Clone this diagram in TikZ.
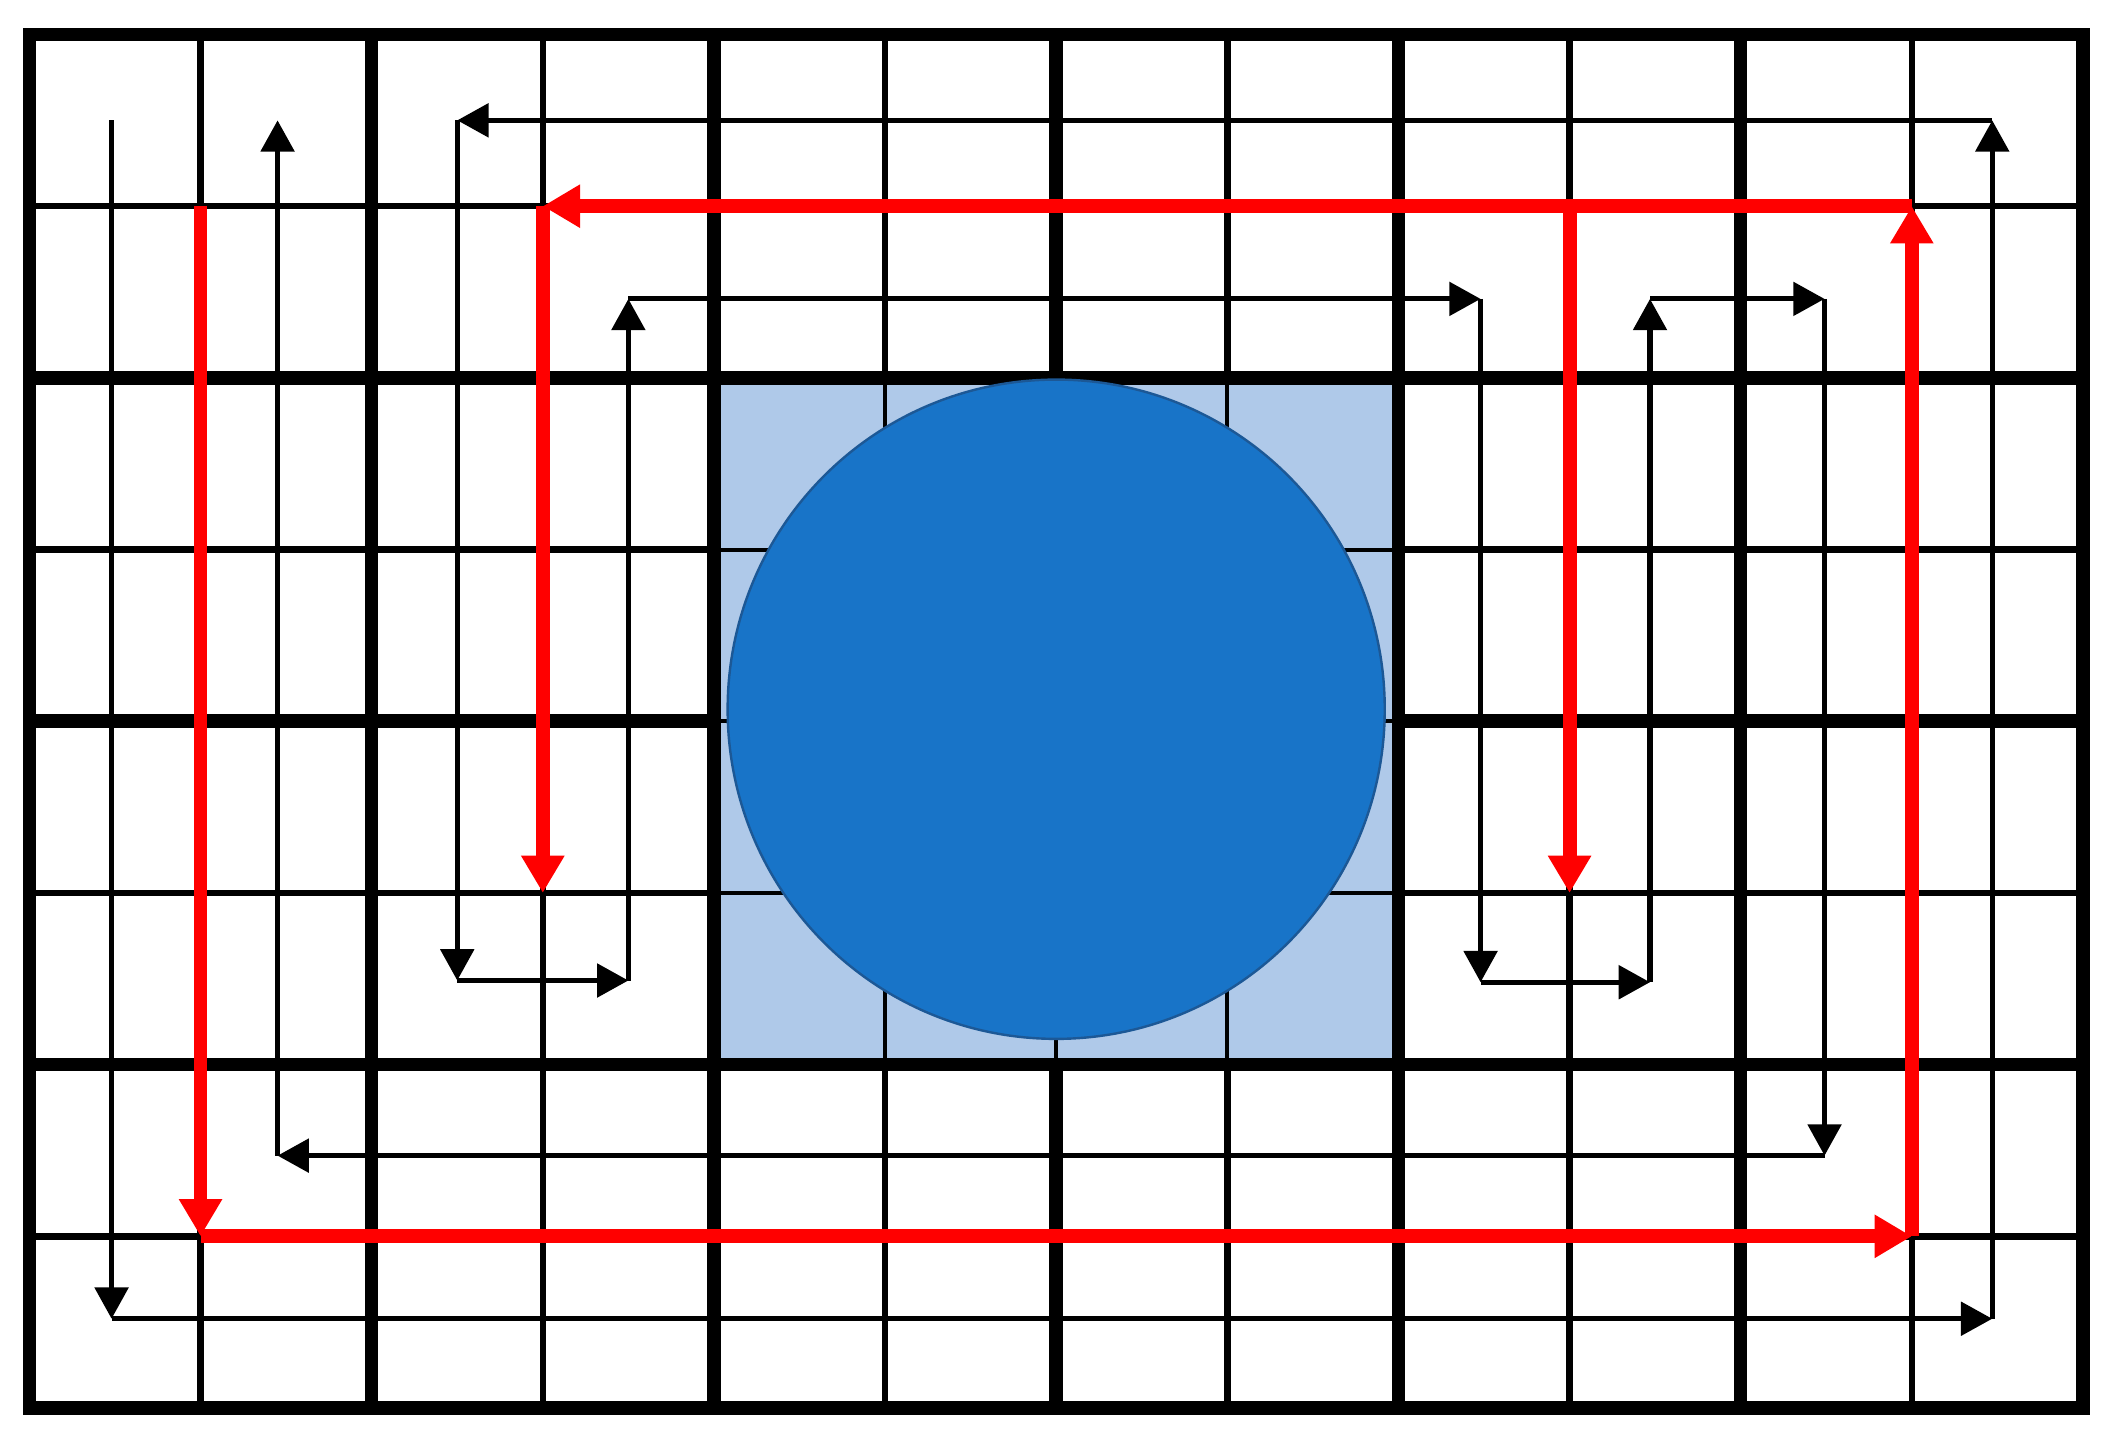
\documentclass[tikz,border=0pt]{standalone}
\usepackage{xcolor}
\usepackage{tikz}
\usetikzlibrary{arrows.meta}

\definecolor{cellblue}{RGB}{175,201,233}
\definecolor{discblue}{RGB}{24,116,200}
\definecolor{discedge}{RGB}{28,88,150}

\begin{document}
\begin{tikzpicture}[x=1cm,y=1.0033cm,
    thingrid/.style={line width=1.1pt},
    thickgrid/.style={line width=2.25pt},
    innergrid/.style={line width=0.67pt},
    blackpath/.style={line width=0.85pt,-{Triangle[length=5.2pt,width=5.5pt]}},
    redpath/.style={red,line width=2.3pt,-{Triangle[length=6.2pt,width=6.8pt]}}]
    \useasboundingbox (-0.172,-0.221) rectangle (12.164,8.201);

    % grid
    \foreach \k in {1,3,...,11} \draw[thingrid] (\k,0) -- (\k,8);
    \foreach \k in {1,3,5,7} \draw[thingrid] (0,\k) -- (12,\k);
    \foreach \k in {2,4,...,10} \draw[thickgrid] (\k,0) -- (\k,8);
    \foreach \k in {2,4,6} \draw[thickgrid] (0,\k) -- (12,\k);
    \draw[thickgrid] (0,0) rectangle (12,8);

    % shaded block and disc
    \fill[cellblue] (4.04,2.04) rectangle (7.96,5.96);
    \foreach \k in {5,6,7} \draw[innergrid] (\k,2.04) -- (\k,5.96);
    \foreach \k in {3,4,5} \draw[innergrid] (4.04,\k) -- (7.96,\k);
    \filldraw[fill=discblue,draw=discedge,line width=0.4pt] (6,4.07) circle (1.92);

    % corners of the black sweep
    \coordinate (b0) at (0.48,7.5);
    \coordinate (b1) at (0.48,0.52);
    \coordinate (b2) at (11.47,0.52);
    \coordinate (b3) at (11.47,7.5);
    \coordinate (b4) at (2.5,7.5);
    \coordinate (b5) at (2.5,2.49);
    \coordinate (b6) at (3.5,2.49);
    \coordinate (b7) at (3.5,6.46);
    \coordinate (b8) at (8.48,6.46);
    \coordinate (b9) at (8.48,2.48);
    \coordinate (b10) at (9.47,2.48);
    \coordinate (b11) at (9.47,6.46);
    \coordinate (b12) at (10.49,6.46);
    \coordinate (b13) at (10.49,1.47);
    \coordinate (b14) at (1.45,1.47);
    \coordinate (b15) at (1.45,7.5);
    \foreach \p/\q in {b0/b1,b1/b2,b2/b3,b3/b4,b4/b5,b5/b6,b6/b7,b7/b8,b8/b9,b9/b10,b10/b11,b11/b12,b12/b13,b13/b14,b14/b15}
        \draw[blackpath] (\p) -- (\q);

    % corners of the red sweep
    \coordinate (r0) at (1,7);
    \coordinate (r1) at (1,1);
    \coordinate (r2) at (11,1);
    \coordinate (r3) at (11,7);
    \coordinate (r4) at (3,7);
    \coordinate (r5) at (3,3);
    \coordinate (r6) at (9,7);
    \coordinate (r7) at (9,3);
    \foreach \p/\q in {r0/r1,r1/r2,r2/r3,r3/r4,r4/r5,r6/r7}
        \draw[redpath] (\p) -- (\q);

\end{tikzpicture}
\end{document}
